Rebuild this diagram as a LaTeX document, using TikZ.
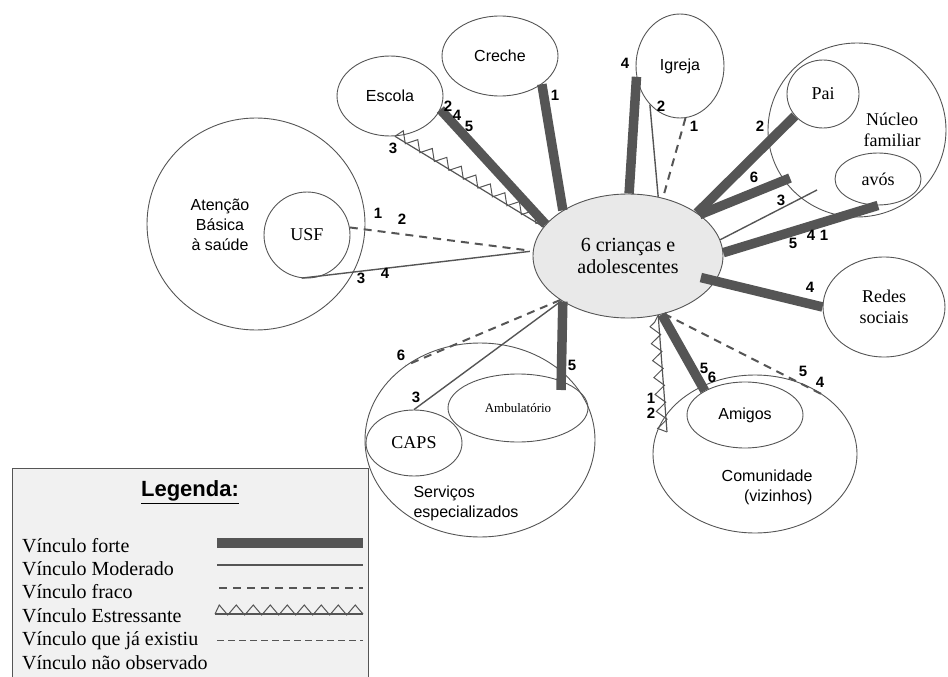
\documentclass[tikz,border=0pt]{standalone}
\usepackage{fontspec}
\setmainfont{Liberation Serif}
\setsansfont{Liberation Sans}
\usetikzlibrary{shapes.geometric,decorations.pathmorphing}

\definecolor{linegray}{HTML}{555555}
\definecolor{edgegray}{HTML}{555555}
\definecolor{kidfill}{HTML}{E9E9E9}
\definecolor{legfill}{HTML}{F1F1F1}

\tikzset{
  circ/.style={ellipse, draw=edgegray, line width=0.9pt, inner sep=0pt, align=center},
  forte/.style={draw=linegray, line width=9.5pt},
  moderado/.style={draw=linegray, line width=1.4pt},
  fraco/.style={draw=linegray, line width=2pt, dash pattern=on 8pt off 6pt},
  estresse/.style={draw=linegray, line width=1.2pt,
    postaction={draw=linegray, line width=1pt, decorate,
      decoration={zigzag, segment length=17pt, amplitude=5pt, raise=4pt}}},
  existiu/.style={draw=linegray, line width=0.9pt, dash pattern=on 7pt off 4pt},
  num/.style={font=\sffamily\bfseries\fontsize{15}{15}\selectfont, inner sep=0pt},
  sanstxt/.style={font=\sffamily\fontsize{16}{20}\selectfont},
  seriftxt/.style={font=\fontsize{18}{21}\selectfont},
  legtxt/.style={font=\fontsize{20}{23}\selectfont, anchor=base west, inner sep=0pt}
}

\begin{document}
\begin{tikzpicture}[x=1pt, y=-1pt]
			%%%%% START %%%%%
			\useasboundingbox (0,0) rectangle (948,677);

			% centre
			\node[circ, fill=kidfill, minimum width=190pt, minimum height=124pt, font=\fontsize{20}{22}\selectfont] (kids) at (628,256) {6 crianças e\\adolescentes};

			% around
			\node[circ, sanstxt, minimum width=116pt, minimum height=80pt] (creche) at (500,56) {Creche};
			\node[circ, sanstxt, minimum width=106pt, minimum height=80pt] (escola) at (390,96) {Escola};
			\node[circ, sanstxt, minimum width=88pt, minimum height=104pt] (igreja) at (680,66) {Igreja};
			\node[circ, minimum width=178pt, minimum height=174pt] (nucleo) at (857,130) {};
			\node[seriftxt, align=center] (nucleotxt) at (892,130) {Núcleo\\familiar};
			\node[circ, seriftxt, minimum width=72pt, minimum height=68pt] (pai) at (823,94) {Pai};
			\node[circ, seriftxt, minimum width=86pt, minimum height=52pt] (avos) at (878,179) {avós};
			\node[circ, seriftxt, minimum width=122pt, minimum height=100pt] (redes) at (884,307) {Redes\\sociais};

			\node[circ, minimum width=218pt, minimum height=212pt] (atencao) at (256,224) {};
			\node[sanstxt, align=center] (atencaotxt) at (220,225) {Atenção\\Básica\\à saúde};
			\node[circ, seriftxt, minimum width=86pt, minimum height=86pt] (usf) at (307,235) {USF};

			\node[circ, minimum width=230pt, minimum height=194pt] (servicos) at (480,440) {};
			\node[sanstxt, align=left, anchor=west] (servicostxt) at (410,503) {Serviços\\especializados};
			\node[circ, font=\fontsize{13}{15}\selectfont, minimum width=140pt, minimum height=68pt] (ambul) at (518,408) {Ambulatório};
			\node[circ, seriftxt, minimum width=96pt, minimum height=66pt] (caps) at (414,443) {CAPS};

			\node[circ, minimum width=204pt, minimum height=158pt] (comun) at (755,454) {};
			\node[sanstxt, align=right, anchor=east] (comuntxt) at (816,487) {Comunidade\\(vizinhos)};
			\node[circ, sanstxt, minimum width=116pt, minimum height=66pt] (amigos) at (745,415) {Amigos};

			\coordinate (seisend) at (790,178);
			\coordinate (tresend) at (817,190);
			\coordinate (ambend) at (561,390);
			\coordinate (zzend) at (667,432);

			% links
			\draw[forte] (creche.-34) -- (kids.145);
			\draw[forte] (escola.-15) -- (kids.159);
			\draw[estresse] (escola.-83) -- (kids.161);
			\draw[fraco, shorten >=5pt] (usf.10) -- (kids.177);
			\draw[moderado, shorten >=3pt] (usf.-97) -- (kids.177);
			\draw[forte] (igreja.194) -- (kids.89);
			\draw[moderado] (igreja.232) -- (kids.63);
			\draw[fraco] (igreja.-84) -- (kids.59);
			\draw[forte] (pai.218) -- (kids.32);
			\draw[forte] (seisend) -- (kids.30);
			\draw[moderado] (tresend) -- (kids.10);
			\draw[forte] (avos.south) -- (kids.2);
			\draw[forte, shorten <=-15pt] (kids.-16) -- (redes.west);
			\draw[forte] (kids.215) -- (ambend);
			\draw[fraco] (kids.213) -- (servicos.135);
			\draw[moderado] (kids.214) -- (caps.north);
			\draw[forte] (kids.-60) -- (amigos.149);
			\draw[estresse] (zzend) -- (kids.-63);
			\draw[fraco] (kids.-58) -- (comun.40);

			% numbers
			\node[num] (c1) at (555,95) {1};
			\node[num] (e2) at (448,106) {2};
			\node[num] (e4) at (457,115) {4};
			\node[num] (e5) at (469,126) {5};
			\node[num] (e3) at (393,148) {3};
			\node[num] (u1) at (378,213) {1};
			\node[num] (u2) at (402,219) {2};
			\node[num] (u3) at (361,278) {3};
			\node[num] (u4) at (385,273) {4};
			\node[num] (i4) at (625,63) {4};
			\node[num] (i2) at (661,106) {2};
			\node[num] (i1) at (694,126) {1};
			\node[num] (p2) at (760,126) {2};
			\node[num] (f6) at (754,177) {6};
			\node[num] (f3) at (781,200) {3};
			\node[num] (a5) at (793,243) {5};
			\node[num] (a4) at (811,235) {4};
			\node[num] (a1) at (824,235) {1};
			\node[num] (r4) at (810,287) {4};
			\node[num] (s5) at (572,365) {5};
			\node[num] (s6) at (401,355) {6};
			\node[num] (s3) at (416,397) {3};
			\node[num] (m5) at (704,368) {5};
			\node[num] (m6) at (712,377) {6};
			\node[num] (z1) at (651,398) {1};
			\node[num] (z2) at (651,413) {2};
			\node[num] (d5) at (803,371) {5};
			\node[num] (d4) at (820,382) {4};

			% legend
			\draw[draw=edgegray, fill=legfill, line width=0.9pt] (12,468) rectangle (368,700);
			\node[font=\sffamily\bfseries\fontsize{22}{24}\selectfont] (legtitle) at (190,492) {\underline{Legenda:}};
			\node[legtxt] (lforte) at (22,552) {Vínculo forte};
			\node[legtxt] (lmod) at (22,575.4) {Vínculo Moderado};
			\node[legtxt] (lfraco) at (22,598.8) {Vínculo fraco};
			\node[legtxt] (lstress) at (22,622.2) {Vínculo Estressante};
			\node[legtxt] (lexist) at (22,645.6) {Vínculo que já existiu};
			\node[legtxt] (lnao) at (22,669) {Vínculo não observado};
			\draw[forte] (217,543) -- (363,543);
			\draw[moderado] (217,565) -- (363,565);
			\draw[fraco] (219,588) -- (363,588);
			\draw[estresse] (215,614) -- (363,614);
			\draw[existiu] (217,640) -- (363,640);

			%%%%% END %%%%%
\end{tikzpicture}
\end{document}
